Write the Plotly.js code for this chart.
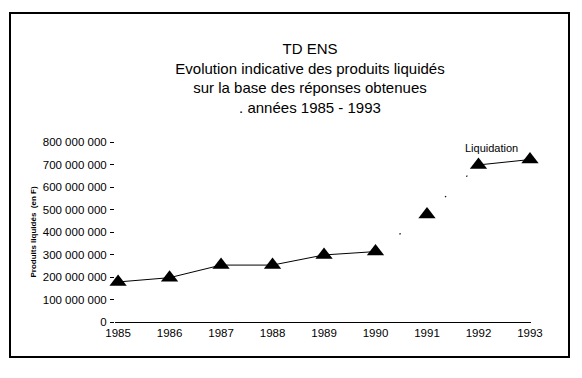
<!DOCTYPE html>
<html><head><meta charset="utf-8">
<script src="https://cdn.plot.ly/plotly-3.0.1.min.js"></script>
<style>html,body{margin:0;padding:0;background:#fff}#chart{width:582px;height:378px}</style>
</head><body><div id="chart"></div>
<script>
const years = [1985, 1986, 1987, 1988, 1989, 1990, 1991, 1992, 1993];
const produits = [178e6, 197e6, 253e6, 253e6, 298e6, 313e6, 478e6, 698e6, 722e6];
const yTickVals = [0, 100e6, 200e6, 300e6, 400e6, 500e6, 600e6, 700e6, 800e6];
const yTickText = ["0", "100 000 000", "200 000 000", "300 000 000", "400 000 000", "500 000 000", "600 000 000", "700 000 000", "800 000 000"];
const titleLines = ["TD ENS", "Evolution indicative des produits liquidés", "sur la base des réponses obtenues", ". années 1985 - 1993"];
const yTitle = "Produits liquidés  (en F)";
const annotationText = "Liquidation";

const F = "Liberation Sans, Arial, sans-serif";
const line = {color: "#000", width: 1};
const traces = [
  {x: years.slice(0, 6), y: produits.slice(0, 6), mode: "lines", line: line, hoverinfo: "skip"},
  {x: years.slice(5, 8), y: produits.slice(5, 8), mode: "lines", line: {color: "#000", width: 1.2, dash: "1.5px,28px"}, hoverinfo: "skip"},
  {x: years.slice(7, 9), y: produits.slice(7, 9), mode: "lines", line: line, hoverinfo: "skip"},
  {x: years, y: produits, mode: "markers", cliponaxis: false, marker: {symbol: "triangle-up", size: 15, color: "#000", line: {width: 0}}}
];
const L = 115, R = 531, T = 142, B = 322, W = 582, H = 378;
const pw = R - L, ph = B - T;
const layout = {
  width: W, height: H, showlegend: false,
  paper_bgcolor: "#fff", plot_bgcolor: "#fff",
  margin: {l: L, r: W - R, t: T, b: H - B, pad: 0},
  font: {family: F, color: "#000"},
  title: {text: titleLines.join("<br>"), font: {family: F, size: 15, color: "#000"},
          xref: "container", x: 310 / W, xanchor: "center", yref: "container", y: 1 - 54 / H, yanchor: "top"},
  xaxis: {range: [1984.94, 1993.02], tickvals: years, ticktext: years.map(String), showgrid: false, zeroline: false,
          showline: true, linecolor: "#000", linewidth: 1, ticks: "", tickfont: {size: 11.5, family: F}, fixedrange: true},
  yaxis: {range: [0, 800e6], tickvals: yTickVals, ticktext: yTickText, showgrid: false, zeroline: false, showline: false,
          ticks: "outside", ticklen: 4, tickwidth: 1, tickcolor: "#000", ticklabelstandoff: 1, tickfont: {size: 11.5, family: F},
          title: {text: yTitle, font: {size: 8, family: F, weight: "bold"}, standoff: 4}, fixedrange: true},
  annotations: [{x: 1992, y: produits[7], xref: "x", yref: "y", text: annotationText, showarrow: false,
                 xanchor: "left", yanchor: "bottom", xshift: -15, yshift: 9, font: {size: 11, family: F}}],
  shapes: [{type: "rect", xref: "paper", yref: "paper",
            x0: (10 - L) / pw, x1: (569 - L) / pw, y0: (B - 357) / ph, y1: (B - 13) / ph,
            line: {color: "#000", width: 2}}]
};
Plotly.newPlot("chart", traces, layout, {displayModeBar: false, staticPlot: true});
</script></body></html>
